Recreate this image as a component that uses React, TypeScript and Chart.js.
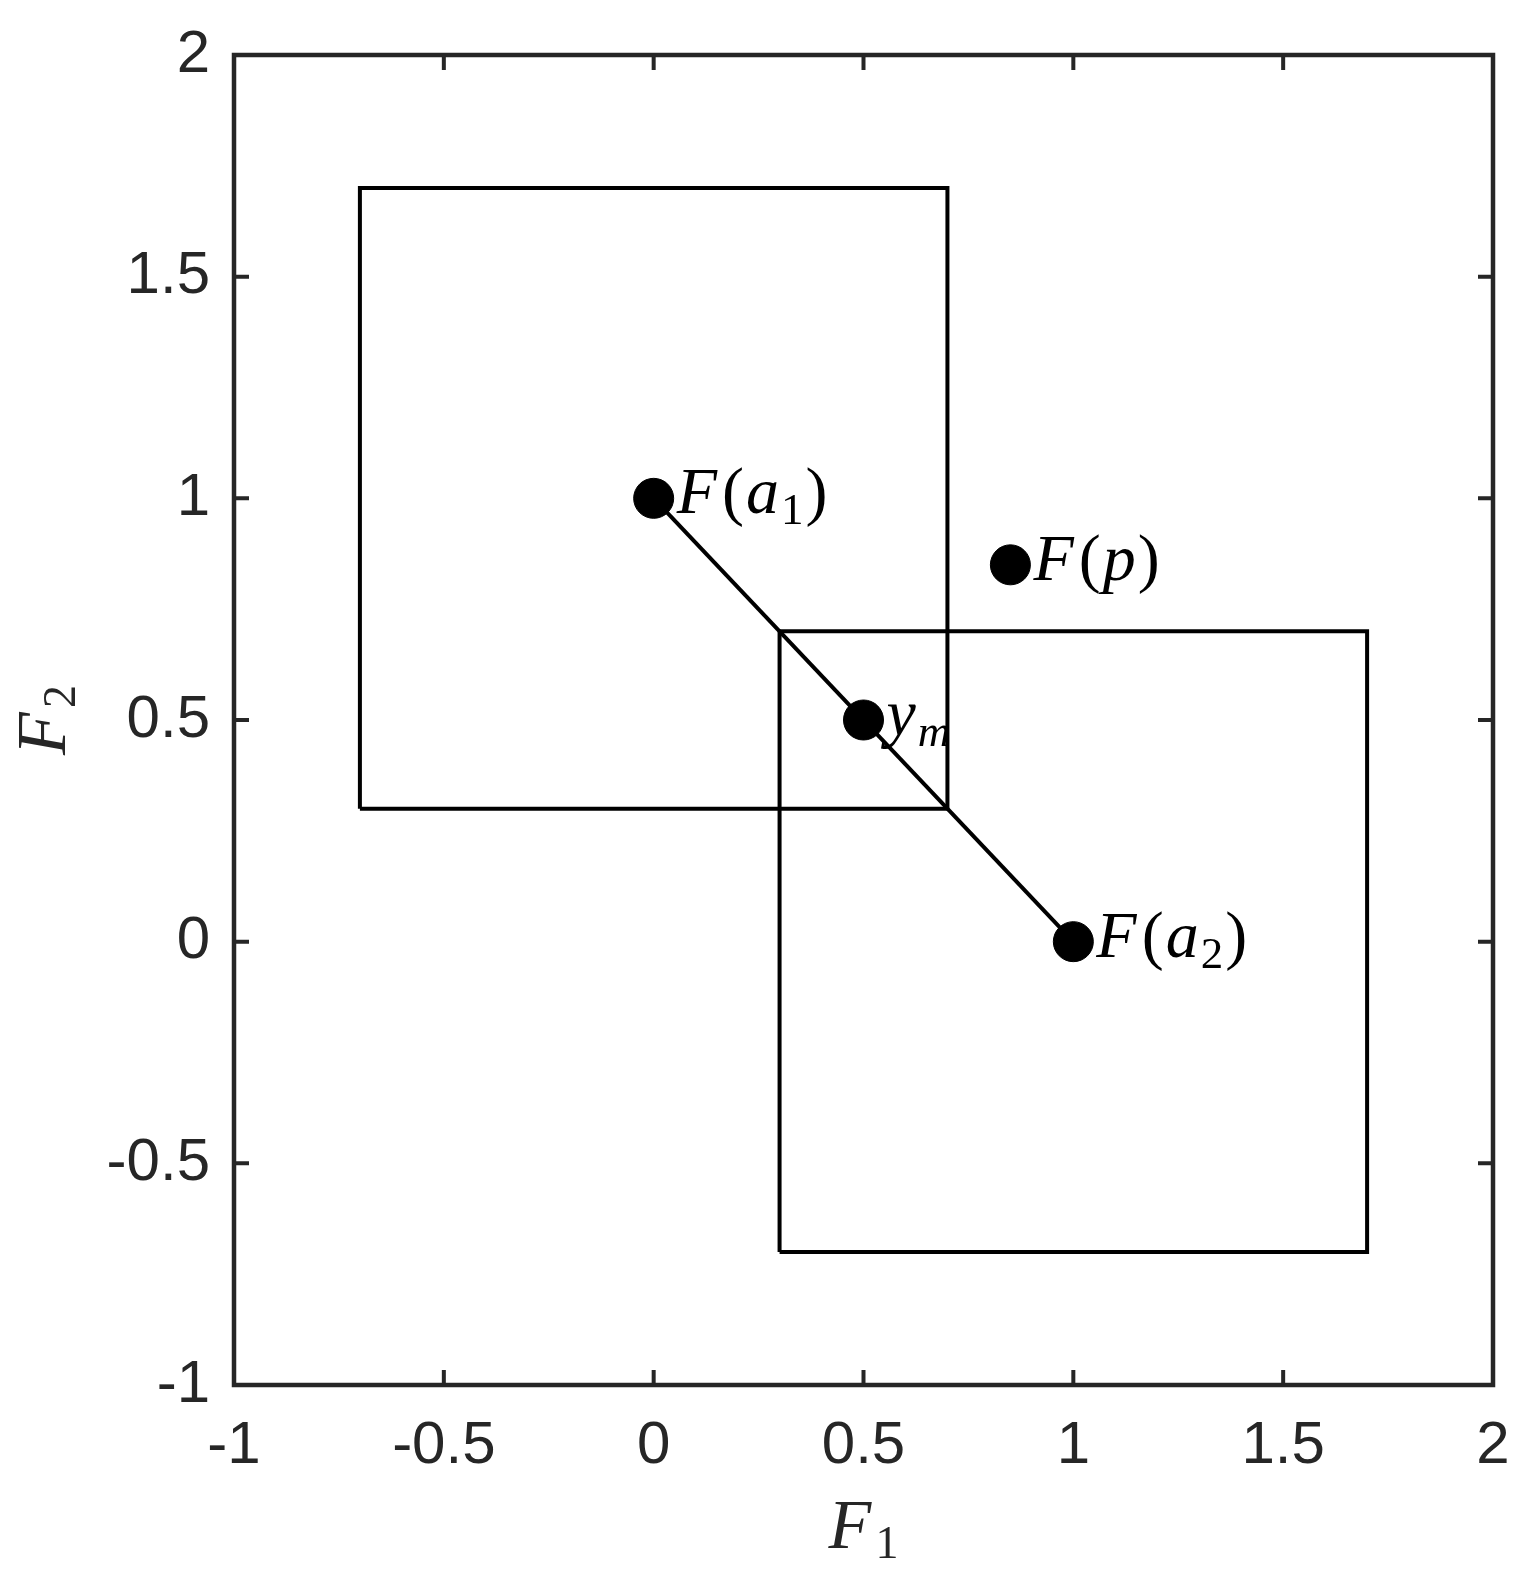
import React, { useEffect, useRef } from 'react';
import { Chart, registerables } from 'chart.js';

Chart.register(...registerables);

// ---- data ----
const xTicks = [-1, -0.5, 0, 0.5, 1, 1.5, 2];
const yTicks = [-1, -0.5, 0, 0.5, 1, 1.5, 2];
const box1X = [-0.7, 0.7];
const box1Y = [0.3, 1.7];
const box2X = [0.3, 1.7];
const box2Y = [-0.7, 0.7];
const segX = [0, 1];
const segY = [1, 0];
const ptX = [0, 0.85, 0.5, 1];
const ptY = [1, 0.85, 0.5, 0];
// label parts: [text, style]; i = italic, r = roman, si = subscript italic, sr = subscript roman
const ptLabels: [string, string][][] = [
  [['F', 'i'], ['(', 'r'], ['a', 'i'], ['1', 'sr'], [')', 'r']],
  [['F', 'i'], ['(', 'r'], ['p', 'i'], [')', 'r']],
  [['y', 'i'], ['m', 'si']],
  [['F', 'i'], ['(', 'r'], ['a', 'i'], ['2', 'sr'], [')', 'r']],
];
const xTitle: [string, string][] = [['F', 'i'], ['1', 'sr']];
const yTitle: [string, string][] = [['F', 'i'], ['2', 'sr']];

const AXIS = '#262626';
const SERIF = '"Liberation Serif", "Times New Roman", serif';

function rect(xs: number[], ys: number[]) {
  return [
    { x: xs[0], y: ys[0] },
    { x: xs[1], y: ys[0] },
    { x: xs[1], y: ys[1] },
    { x: xs[0], y: ys[1] },
    { x: xs[0], y: ys[0] },
  ];
}

function fontFor(style: string, size: number, subSize: number) {
  const italic = style === 'i' || style === 'si';
  const sz = style.startsWith('s') ? subSize : size;
  return `${italic ? 'italic ' : ''}${sz}px ${SERIF}`;
}

function richWidth(ctx: CanvasRenderingContext2D, parts: [string, string][], size: number, subSize: number, gap: number) {
  let w = 0;
  for (const [t, s] of parts) {
    ctx.font = fontFor(s, size, subSize);
    w += ctx.measureText(t).width + (s === 'i' && t === 'F' ? 3 : 0) + gap;
  }
  return w - gap;
}

function drawRich(
  ctx: CanvasRenderingContext2D,
  parts: [string, string][],
  x: number,
  baseline: number,
  size: number,
  subSize: number,
  subShift: number,
  gap: number
) {
  let cx = x;
  ctx.textBaseline = 'alphabetic';
  ctx.textAlign = 'left';
  for (const [t, s] of parts) {
    ctx.font = fontFor(s, size, subSize);
    const y = s.startsWith('s') ? baseline + subShift : baseline;
    ctx.fillText(t, cx, y);
    cx += ctx.measureText(t).width + (s === 'i' && t === 'F' ? 3 : 0) + gap;
  }
}

const framePlugin = {
  id: 'frameAndLabels',
  afterDatasetsDraw(chart: any) {
    const { ctx, chartArea, scales } = chart;
    const xs = scales.x;
    const ys = scales.y;
    ctx.save();
    // point labels
    ctx.fillStyle = '#000';
    ptLabels.forEach((parts, i) => {
      const px = xs.getPixelForValue(ptX[i]);
      const py = ys.getPixelForValue(ptY[i]);
      drawRich(ctx, parts, px + 23, py + 15, 66, 45, 11, 2);
    });
    // frame
    ctx.strokeStyle = AXIS;
    ctx.lineWidth = 4.5;
    ctx.strokeRect(chartArea.left, chartArea.top, chartArea.right - chartArea.left, chartArea.bottom - chartArea.top);
    // inward ticks
    const tl = 15;
    ctx.lineWidth = 4;
    ctx.beginPath();
    xTicks.forEach((v) => {
      const p = xs.getPixelForValue(v);
      ctx.moveTo(p, chartArea.bottom);
      ctx.lineTo(p, chartArea.bottom - tl);
      ctx.moveTo(p, chartArea.top);
      ctx.lineTo(p, chartArea.top + tl);
    });
    yTicks.forEach((v) => {
      const p = ys.getPixelForValue(v);
      ctx.moveTo(chartArea.left, p);
      ctx.lineTo(chartArea.left + tl, p);
      ctx.moveTo(chartArea.right, p);
      ctx.lineTo(chartArea.right - tl, p);
    });
    ctx.stroke();
    // axis titles
    ctx.fillStyle = AXIS;
    const cxMid = (chartArea.left + chartArea.right) / 2;
    const wX = richWidth(ctx, xTitle, 70, 46, 1);
    drawRich(ctx, xTitle, cxMid - wX / 2, 1548, 70, 46, 10, 1);
    const cyMid = (chartArea.top + chartArea.bottom) / 2;
    const wY = richWidth(ctx, yTitle, 70, 46, 1);
    ctx.translate(65, cyMid);
    ctx.rotate(-Math.PI / 2);
    drawRich(ctx, yTitle, -wY / 2, 0, 70, 46, 10, 1);
    ctx.restore();
  },
};

function zeroPad(s: any) {
  s.paddingTop = 0;
  s.paddingBottom = 0;
  s.paddingLeft = 0;
  s.paddingRight = 0;
}

export default function App() {
  const ref = useRef<HTMLCanvasElement | null>(null);
  useEffect(() => {
    if (!ref.current) return;
    const tickFont = { family: '"Liberation Sans", Arial, Helvetica, sans-serif', size: 60 };
    const chart = new Chart(ref.current, {
      type: 'scatter',
      data: {
        datasets: [
          {
            data: rect(box1X, box1Y),
            showLine: true,
            borderColor: '#000',
            borderWidth: 4,
            pointRadius: 0,
            fill: false,
          },
          {
            data: rect(box2X, box2Y),
            showLine: true,
            borderColor: '#000',
            borderWidth: 4,
            pointRadius: 0,
            fill: false,
          },
          {
            data: segX.map((x, i) => ({ x, y: segY[i] })),
            showLine: true,
            borderColor: '#000',
            borderWidth: 4,
            pointRadius: 0,
            fill: false,
          },
          {
            data: ptX.map((x, i) => ({ x, y: ptY[i] })),
            showLine: false,
            pointRadius: 20,
            pointBackgroundColor: '#000',
            pointBorderColor: '#000',
            pointBorderWidth: 1,
          },
        ],
      } as any,
      options: {
        responsive: false,
        animation: false,
        layout: { padding: { top: 55, right: 39, left: 0, bottom: 0 } },
        plugins: { legend: { display: false }, tooltip: { enabled: false } },
        scales: {
          x: {
            type: 'linear',
            min: -1,
            max: 2,
            afterFit: (s: any) => {
              s.height = 196;
              zeroPad(s);
            },
            afterBuildTicks: (s: any) => {
              s.ticks = xTicks.map((v) => ({ value: v }));
            },
            grid: { display: false, drawTicks: false },
            border: { display: false },
            ticks: {
              font: tickFont,
              color: AXIS,
              padding: 25,
              maxRotation: 0,
              autoSkip: false,
              callback: (v: any) => String(v),
            },
          },
          y: {
            type: 'linear',
            min: -1,
            max: 2,
            afterFit: (s: any) => {
              s.width = 234;
              zeroPad(s);
            },
            afterBuildTicks: (s: any) => {
              s.ticks = yTicks.map((v) => ({ value: v }));
            },
            grid: { display: false, drawTicks: false },
            border: { display: false },
            ticks: {
              font: tickFont,
              color: AXIS,
              padding: 24,
              autoSkip: false,
              callback: (v: any) => String(v),
            },
          },
        },
      } as any,
      plugins: [framePlugin],
    });
    return () => chart.destroy();
  }, []);
  return (
    <div style={{ position: 'absolute', left: 0, top: 0, width: 1532, height: 1581, background: '#fff' }}>
      <canvas ref={ref} width={1532} height={1581} style={{ display: 'block' }} />
    </div>
  );
}
